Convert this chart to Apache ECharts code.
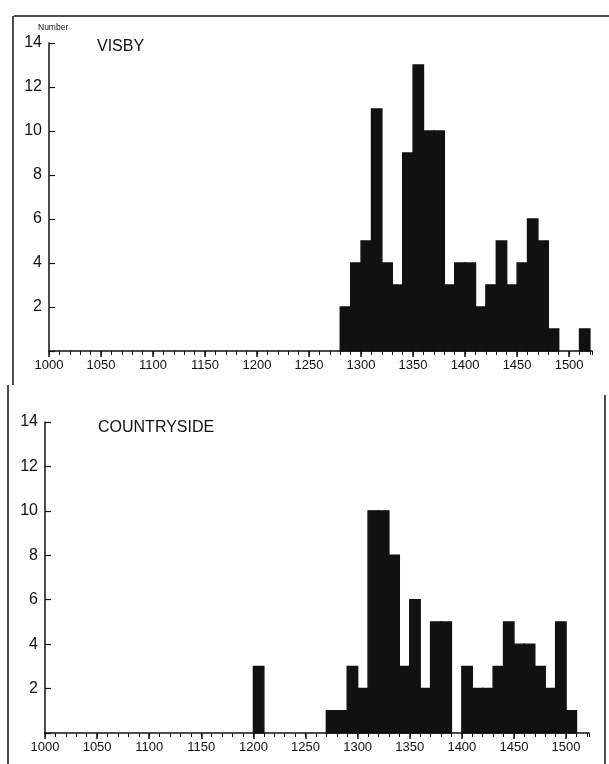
<!DOCTYPE html>
<html>
<head>
<meta charset="utf-8">
<script src="https://cdn.jsdelivr.net/npm/echarts@6/dist/echarts.min.js"></script>
<style>
html,body{margin:0;padding:0;background:#fff;}
#chart{width:609px;height:764px;}
</style>
</head>
<body>
<div id="chart"></div>
<script>
// Bin start years (10-year bins) and counts
var visbyBins = [1280,1290,1300,1310,1320,1330,1340,1350,1360,1370,1380,1390,1400,1410,1420,1430,1440,1450,1460,1470,1480,1490,1500,1510];
var visbyCounts = [2,4,5,11,4,3,9,13,10,10,3,4,4,2,3,5,3,4,6,5,1,0,0,1];

var countryBins = [1200,1210,1220,1230,1240,1250,1260,1270,1280,1290,1300,1310,1320,1330,1340,1350,1360,1370,1380,1390,1400,1410,1420,1430,1440,1450,1460,1470,1480,1490,1500];
var countryCounts = [3,0,0,0,0,0,0,1,1,3,2,10,10,8,3,6,2,5,5,0,3,2,2,3,5,4,4,3,2,5,1];

var binWidth = 10;
var xMin = 1000, xMax = 1522;
var yTicks = [2,4,6,8,10,12,14];
var panelTitles = ['VISBY','COUNTRYSIDE'];
var yAxisName = 'Number';

var FONT = '"Liberation Sans", Arial, sans-serif';
var INK = '#111';

function toData(bins, counts){
  var out = [];
  for (var i=0;i<bins.length;i++){ if (counts[i] > 0) out.push([bins[i], counts[i]]); }
  return out;
}

function renderBin(params, api){
  var x0 = api.value(0), v = api.value(1);
  var p1 = api.coord([x0, v]);
  var p2 = api.coord([x0 + binWidth, 0]);
  return {
    type:'rect',
    shape:{x:p1[0], y:p1[1], width:p2[0]-p1[0], height:p2[1]-p1[1]},
    style:{fill:INK, stroke:INK, lineWidth:1.4}
  };
}

function majorX(gi){
  return {
    type:'value', gridIndex:gi, min:xMin, max:xMax, interval:50,
    axisLine:{show:true, onZero:false, lineStyle:{color:INK, width:1.5}},
    axisTick:{show:true, inside:false, length:6, lineStyle:{color:INK, width:1.5}},
    axisLabel:{show:true, color:INK, fontFamily:FONT, fontSize:13, margin:8, showMaxLabel:false,
      formatter:function(v){ return (v % 50 === 0 && v <= 1500) ? String(v) : ''; }},
    splitLine:{show:false}
  };
}
function minorX(gi){
  return {
    type:'value', gridIndex:gi, min:xMin, max:xMax, interval:10,
    axisLine:{show:false},
    axisTick:{show:true, inside:true, length:4, lineStyle:{color:INK, width:1}},
    axisLabel:{show:false},
    splitLine:{show:false}
  };
}
function yAx(gi){
  return {
    type:'value', gridIndex:gi, min:0, max:14, interval:2,
    axisLine:{show:true, lineStyle:{color:INK, width:1.5}},
    axisTick:{show:true, inside:true, length:6, lineStyle:{color:INK, width:1.2}},
    axisLabel:{color:INK, fontFamily:FONT, fontSize:16, margin:7,
      formatter:function(v){ return yTicks.indexOf(v) >= 0 ? String(v) : ''; }},
    splitLine:{show:false}
  };
}

var chart = echarts.init(document.getElementById('chart'), null, {renderer:'canvas'});
chart.setOption({
  animation:false,
  backgroundColor:'#fff',
  grid:[
    {left:49, right:17, top:43, height:308},
    {left:45, right:20, top:422, height:311}
  ],
  xAxis:[majorX(0), minorX(0), majorX(1), minorX(1)],
  yAxis:[yAx(0), yAx(1)],
  series:[
    {type:'custom', xAxisIndex:0, yAxisIndex:0, renderItem:renderBin, data:toData(visbyBins, visbyCounts), z:5},
    {type:'custom', xAxisIndex:2, yAxisIndex:1, renderItem:renderBin, data:toData(countryBins, countryCounts), z:5}
  ],
  graphic:[
    {type:'text', left:38, top:23, style:{text:yAxisName, fontFamily:FONT, fontSize:8.5, fill:INK}},
    {type:'text', left:97, top:39, style:{text:panelTitles[0], fontFamily:FONT, fontSize:16, fill:INK}},
    {type:'text', left:98, top:420, style:{text:panelTitles[1], fontFamily:FONT, fontSize:16, fill:INK}},
    {type:'line', shape:{x1:14, y1:16, x2:609, y2:16}, style:{stroke:INK, lineWidth:1.5}},
    {type:'line', shape:{x1:13, y1:16, x2:13, y2:385}, style:{stroke:INK, lineWidth:1.5}},
    {type:'line', shape:{x1:8, y1:385, x2:8, y2:764}, style:{stroke:INK, lineWidth:1.5}},
    {type:'line', shape:{x1:605, y1:395, x2:605, y2:764}, style:{stroke:INK, lineWidth:1.5}}
  ]
});
</script>
</body>
</html>
